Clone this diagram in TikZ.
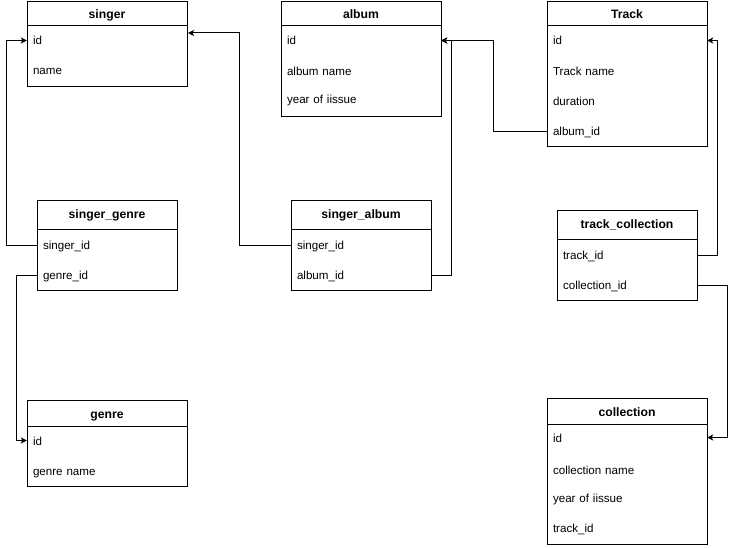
\documentclass[tikz,border=0pt]{standalone}
\usepackage{fontspec}
\setmainfont{Liberation Sans}
\usetikzlibrary{arrows.meta}
\begin{document}
\begin{tikzpicture}[x=1pt,y=-1pt,
  tbox/.style={draw, line width=1pt, inner sep=0pt, anchor=north west},
  ttitle/.style={font=\fontsize{12.2}{14}\selectfont\bfseries, inner sep=0pt, text height=9pt, text depth=0pt},
  wrow/.style={font=\fontsize{11.6}{14}\selectfont, inner xsep=6pt, inner ysep=0pt, align=left, text width=148pt, text height=9pt, text depth=0pt},
  nrow/.style={wrow, text width=128pt},
  fk/.style={line width=1pt, -{Stealth[length=6pt,width=6pt,inset=1.5pt]}}]
\useasboundingbox (0,0) rectangle (737,548);
% singer
\node[tbox, minimum width=160pt, minimum height=85pt] (singer) at (27,1) {};
\draw[line width=1pt] ([yshift=-25pt]singer.north west) -- ([yshift=-25pt]singer.north east);
\node[ttitle] (singer-t) at (107,14.5) {singer};
\node[wrow] (singer-id) at (107,40.5) {id};
\node[wrow] (singer-name) at (107,70.5) {name};
% album
\node[tbox, minimum width=160pt, minimum height=115pt] (album) at (281,1) {};
\draw[line width=1pt] ([yshift=-25pt]album.north west) -- ([yshift=-25pt]album.north east);
\node[ttitle] (album-t) at (361,14.5) {album};
\node[wrow] (album-id) at (361,40.5) {id};
\node[wrow] (album-name) at (361,71.5) {album name};
\node[wrow] (album-year) at (361,99.5) {year of iissue};
% Track
\node[tbox, minimum width=160pt, minimum height=145pt] (track) at (547,1) {};
\draw[line width=1pt] ([yshift=-25pt]track.north west) -- ([yshift=-25pt]track.north east);
\node[ttitle] (track-t) at (627,14.5) {Track};
\node[wrow] (track-id) at (627,40.5) {id};
\node[wrow] (track-name) at (627,71.5) {Track name};
\node[wrow] (track-dur) at (627,101.5) {duration};
\node[wrow] (track-album) at (627,131.5) {album\_id};
% singer_genre
\node[tbox, minimum width=140pt, minimum height=90pt] (sg) at (37,200) {};
\draw[line width=1pt] ([yshift=-30pt]sg.north west) -- ([yshift=-30pt]sg.north east);
\node[ttitle] (sg-t) at (107,214.5) {singer\_genre};
\node[nrow] (sg-singer) at (107,245.5) {singer\_id};
\node[nrow] (sg-genre) at (107,275.5) {genre\_id};
% singer_album
\node[tbox, minimum width=140pt, minimum height=90pt] (sa) at (291,200) {};
\draw[line width=1pt] ([yshift=-30pt]sa.north west) -- ([yshift=-30pt]sa.north east);
\node[ttitle] (sa-t) at (361,214.5) {singer\_album};
\node[nrow] (sa-singer) at (361,245.5) {singer\_id};
\node[nrow] (sa-album) at (361,275.5) {album\_id};
% track_collection
\node[tbox, minimum width=140pt, minimum height=90pt] (tc) at (557,210) {};
\draw[line width=1pt] ([yshift=-30pt]tc.north west) -- ([yshift=-30pt]tc.north east);
\node[ttitle] (tc-t) at (627,224.5) {track\_collection};
\node[nrow] (tc-track) at (627,255.5) {track\_id};
\node[nrow] (tc-coll) at (627,285.5) {collection\_id};
% genre
\node[tbox, minimum width=160pt, minimum height=86pt] (genre) at (27,400) {};
\draw[line width=1pt] ([yshift=-26pt]genre.north west) -- ([yshift=-26pt]genre.north east);
\node[ttitle] (genre-t) at (107,413.5) {genre};
\node[wrow] (genre-id) at (107,440.5) {id};
\node[wrow] (genre-name) at (107,470.5) {genre name};
% collection
\node[tbox, minimum width=160pt, minimum height=146pt] (coll) at (547,398) {};
\draw[line width=1pt] ([yshift=-26pt]coll.north west) -- ([yshift=-26pt]coll.north east);
\node[ttitle] (coll-t) at (627,411.5) {collection};
\node[wrow] (coll-id) at (627,437.5) {id};
\node[wrow] (coll-name) at (627,469.5) {collection name};
\node[wrow] (coll-year) at (627,497.5) {year of iissue};
\node[wrow] (coll-track) at (627,527.5) {track\_id};
% connectors
\coordinate (singer-in) at ([yshift=-32pt]singer.north east);
\draw[fk] (sg-singer.west) -- ++(-30,0) |- (singer-id.west);
\draw[fk] (sg-genre.west) -- ++(-20,0) |- (genre-id.west);
\draw[fk] (sa-singer.west) -- ++(-51,0) |- (singer-in);
\draw[fk] (sa-album.east) -- ++(20,0) |- (album-id.east);
\draw[fk] (track-album.west) -- ++(-53,0) |- (album-id.east);
\draw[fk] (tc-track.east) -- ++(20,0) |- (track-id.east);
\draw[fk] (tc-coll.east) -- ++(30,0) |- (coll-id.east);
\end{tikzpicture}
\end{document}
